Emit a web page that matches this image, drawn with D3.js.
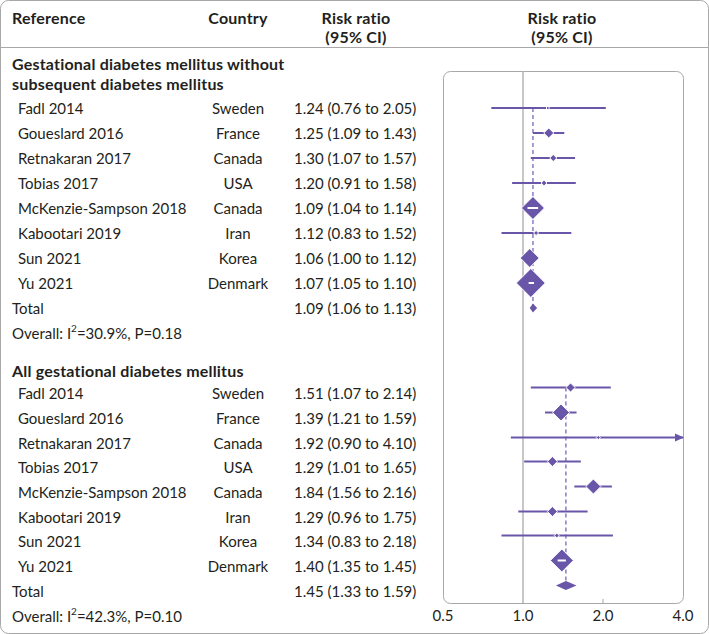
<!DOCTYPE html>
<html><head><meta charset="utf-8">
<script src="https://cdn.jsdelivr.net/npm/d3@7/dist/d3.min.js"></script>
<style>
html,body{margin:0;padding:0;background:#fff;}
svg text{font-family:Lato,"Noto Sans",sans-serif;fill:#231f20;}
</style></head>
<body><svg id="c" width="709" height="634"></svg>
<script>
// ---- data ----
const studies = ["Fadl 2014","Goueslard 2016","Retnakaran 2017","Tobias 2017","McKenzie-Sampson 2018","Kabootari 2019","Sun 2021","Yu 2021"];
const countries = ["Sweden","France","Canada","USA","Canada","Iran","Korea","Denmark"];
const groupTitles = [["Gestational diabetes mellitus without","subsequent diabetes mellitus"],["All gestational diabetes mellitus"]];
const g1RR = [1.24,1.25,1.30,1.20,1.09,1.12,1.06,1.07];
const g1Lo = [0.76,1.09,1.07,0.91,1.04,0.83,1.00,1.05];
const g1Hi = [2.05,1.43,1.57,1.58,1.14,1.52,1.12,1.10];
const g1Weight = [1,12,6,4,63,3,43,100];
const g2RR = [1.51,1.39,1.92,1.29,1.84,1.29,1.34,1.40];
const g2Lo = [1.07,1.21,0.90,1.01,1.56,0.96,0.83,1.35];
const g2Hi = [2.14,1.59,4.10,1.65,2.16,1.75,2.18,1.45];
const g2Weight = [10,34,2,12,27,12,3,63];
const totalRR = [1.09,1.45];
const totalLo = [1.06,1.33];
const totalHi = [1.13,1.59];
const i2 = ["30.9%","42.3%"];
const pHet = ["0.18","0.10"];
const axisTicks = [0.5,1,2,4];
const axisTickLabels = ["0.5","1.0","2.0","4.0"];

const groups = [
  {rr:g1RR,lo:g1Lo,hi:g1Hi,w:g1Weight},
  {rr:g2RR,lo:g2Lo,hi:g2Hi,w:g2Weight}
];

// ---- layout ----
const svg = d3.select("#c");
const W=709,H=634;
const purple="#6a56a8", dashC="#8a7bc6", grey="#b5b5b5", border="#a8a8a8";
const x = d3.scaleLog().base(2).domain([0.5,4]).range([443,683]);
const size = d3.scaleSqrt().domain([0,100]).range([0,29]);
const fmt = d3.format(".2f");
const FS=15, BFS=16, BLS=0.2;
const ciX=294, ctryX=238, nameX=18, leftX=12;

svg.append("rect").attr("x",0.5).attr("y",0.5).attr("width",W-1).attr("height",H-1)
  .attr("rx",8).attr("fill","none").attr("stroke",border);
svg.append("line").attr("x1",0).attr("x2",W).attr("y1",47.5).attr("y2",47.5).attr("stroke",border);

// headers
const hdr = svg.append("g").attr("font-weight","bold").attr("font-size",BFS).attr("letter-spacing",BLS);
hdr.append("text").attr("x",leftX).attr("y",17).attr("dominant-baseline","central").text("Reference");
hdr.append("text").attr("x",ctryX).attr("y",17).attr("text-anchor","middle").attr("dominant-baseline","central").text("Country");
[356,562].forEach(cx=>{
  hdr.append("text").attr("x",cx).attr("y",17).attr("text-anchor","middle").attr("dominant-baseline","central").text("Risk ratio");
  hdr.append("text").attr("x",cx).attr("y",36).attr("text-anchor","middle").attr("dominant-baseline","central").text("(95% CI)");
});

// plot box
const boxTop=71, boxBot=603;
svg.append("rect").attr("x",x(0.5)+0.5).attr("y",boxTop+0.5).attr("width",x(4)-x(0.5)).attr("height",boxBot-boxTop)
  .attr("rx",7).attr("fill","none").attr("stroke",border);
svg.append("line").attr("x1",x(1)).attr("x2",x(1)).attr("y1",boxTop).attr("y2",boxBot).attr("stroke",grey).attr("stroke-width",1.5);
svg.append("line").attr("x1",x(2)).attr("x2",x(2)).attr("y1",boxBot-4).attr("y2",boxBot).attr("stroke",grey).attr("stroke-width",1.2);
axisTicks.forEach((t,i)=>{
  svg.append("text").attr("x",x(t)).attr("y",615).attr("text-anchor","middle").attr("dominant-baseline","central")
    .attr("font-size",FS).text(axisTickLabels[i]);
});

// group layout (text row centers)
const gLayout = [
  {titleY:[63,83], rowY:[108,133,158,183,208,233,258,283], totalY:308, overallY:333, markOff:0},
  {titleY:[370], rowY:[393,418,443,467,492,517,541,566], totalY:591, overallY:616, markOff:-5.5}
];

function diamond(cx,cy,hw,hh){return `M${cx},${cy-hh}L${cx+hw},${cy}L${cx},${cy+hh}L${cx-hw},${cy}Z`;}

groups.forEach((g,gi)=>{
  const L=gLayout[gi];
  L.titleY.forEach((ty,k)=>{
    svg.append("text").attr("x",leftX).attr("y",ty).attr("dominant-baseline","central")
      .attr("font-weight","bold").attr("font-size",BFS).attr("letter-spacing",BLS).text(groupTitles[gi][k]);
  });
  studies.forEach((s,i)=>{
    const y=L.rowY[i];
    svg.append("text").attr("x",nameX).attr("y",y).attr("dominant-baseline","central").attr("font-size",FS).text(s);
    svg.append("text").attr("x",ctryX).attr("y",y).attr("text-anchor","middle").attr("dominant-baseline","central").attr("font-size",FS).text(countries[i]);
    svg.append("text").attr("x",ciX).attr("y",y).attr("dominant-baseline","central").attr("font-size",FS)
      .text(`${fmt(g.rr[i])} (${fmt(g.lo[i])} to ${fmt(g.hi[i])})`);
  });
  svg.append("text").attr("x",leftX).attr("y",L.totalY).attr("dominant-baseline","central").attr("font-size",FS).text("Total");
  svg.append("text").attr("x",ciX).attr("y",L.totalY).attr("dominant-baseline","central").attr("font-size",FS)
    .text(`${fmt(totalRR[gi])} (${fmt(totalLo[gi])} to ${fmt(totalHi[gi])})`);
  const ov = svg.append("text").attr("x",leftX).attr("y",L.overallY).attr("dominant-baseline","central").attr("font-size",FS);
  ov.append("tspan").text("Overall: I");
  ov.append("tspan").attr("font-size",10).attr("dy",-5).text("2");
  ov.append("tspan").attr("dy",5).text(`=${i2[gi]}, P=${pHet[gi]}`);

  const y0=L.rowY[0]+L.markOff, y1=L.totalY+L.markOff;
  svg.append("line").attr("x1",x(totalRR[gi])).attr("x2",x(totalRR[gi])).attr("y1",y0).attr("y2",y1)
    .attr("stroke",dashC).attr("stroke-width",1.5).attr("stroke-dasharray","4,3");

  studies.forEach((s,i)=>{
    const y=L.rowY[i]+L.markOff;
    const cx=x(g.rr[i]);
    const hiC = Math.min(g.hi[i],4);
    const x1=x(g.lo[i]), x2=x(hiC);
    svg.append("line").attr("x1",x1).attr("x2",x2).attr("y1",y).attr("y2",y).attr("stroke",purple).attr("stroke-width",2);
    if(g.hi[i]>4){
      svg.append("path").attr("d",`M${x2+1},${y}L${x2-8},${y-4}L${x2-8},${y+4}Z`).attr("fill",purple);
    }
    const hw=Math.max(size(g.w[i])/2,1.8);
    svg.append("path").attr("d",diamond(cx,y,hw,hw)).attr("fill",purple).attr("stroke","#fff").attr("stroke-width",1);
    if(x1>cx-hw+3 && x2<cx+hw-3){
      svg.append("line").attr("x1",x1).attr("x2",x2).attr("y1",y).attr("y2",y).attr("stroke","#fff").attr("stroke-width",2);
    }
  });
  const ty=L.totalY+L.markOff;
  const tl=x(totalLo[gi]), th=x(totalHi[gi]), tc=x(totalRR[gi]);
  svg.append("path").attr("d",`M${tl},${ty}L${tc},${ty-4.5}L${th},${ty}L${tc},${ty+4.5}Z`).attr("fill",purple);
});
</script></body></html>
